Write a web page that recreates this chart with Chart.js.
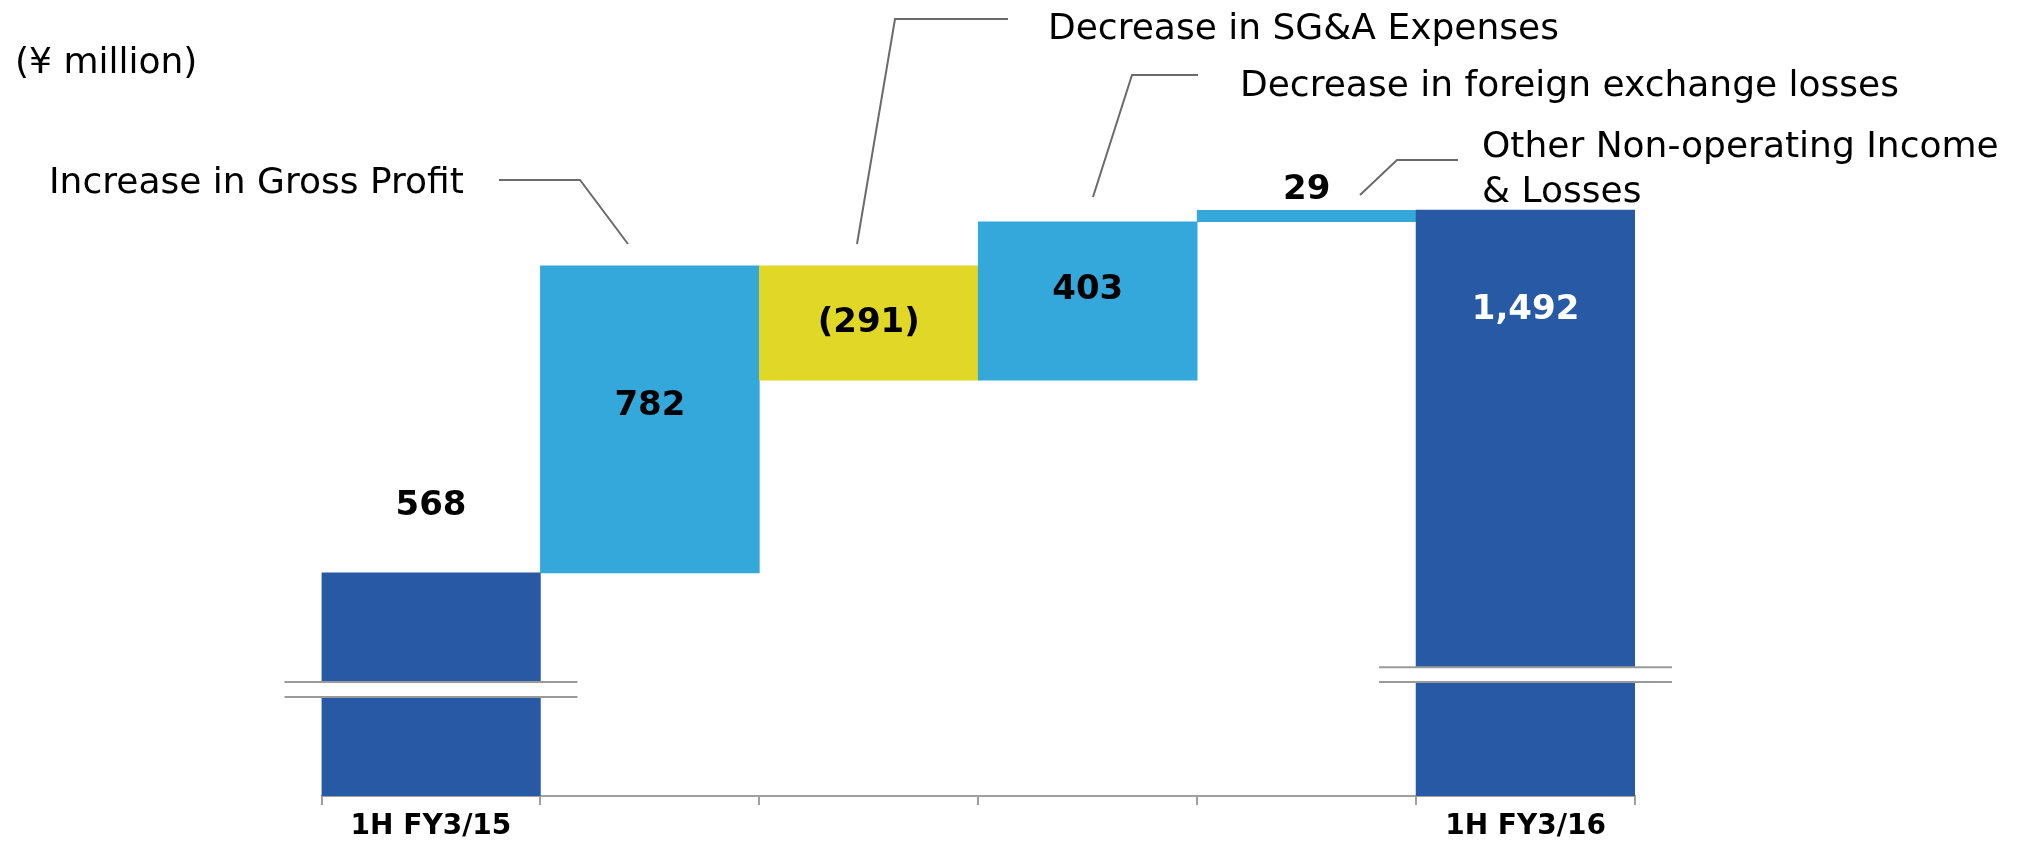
<!DOCTYPE html>
<html>
<head>
<meta charset="utf-8">
<title>Ordinary income bridge</title>
<script src="https://cdn.jsdelivr.net/npm/chart.js@4.4.1/dist/chart.umd.min.js"></script>
<style>
  html, body { margin: 0; padding: 0; background: #fff; }
  #wrap { position: relative; width: 2033px; height: 845px; }
</style>
</head>
<body>
<div id="wrap"><canvas id="bridgeChart"></canvas></div>
<script>
// Values in ¥ million
const categories = ['1H FY3/15', 'Gross Profit', 'SG&A Expenses', 'Foreign exchange losses', 'Other Non-operating', '1H FY3/16'];
const tickLabels = ['1H FY3/15', '', '', '', '', '1H FY3/16'];
const changes = [568, 782, -291, 403, 29, 1492];
const isTotal = [true, false, false, false, false, true];
const barColors = ['#2859a5', '#35a8db', '#e0d727', '#35a8db', '#35a8db', '#2859a5'];
const labelColors = ['#000', '#000', '#000', '#000', '#000', '#fff'];

const FONT = "'DejaVu Sans', Verdana, sans-serif";

// Build floating [from, to] ranges for the waterfall
let running = 0;
const ranges = changes.map((v, i) => {
  if (isTotal[i]) { running = v; return [0, v]; }
  const from = running;
  running += v;
  return [from, running];
});

function formatValue(v) {
  const s = Math.abs(v).toLocaleString('en-US');
  return v < 0 ? '(' + s + ')' : s;
}

// Value labels on / above each bar
const valueLabels = {
  id: 'valueLabels',
  afterDatasetsDraw(chart, args, opts) {
    const ctx = chart.ctx;
    const meta = chart.getDatasetMeta(0);
    ctx.save();
    ctx.font = 'bold 34px ' + FONT;
    ctx.textAlign = 'center';
    ctx.textBaseline = 'middle';
    meta.data.forEach((bar, i) => {
      const { x, y, base } = bar.getProps(['x', 'y', 'base'], true);
      const top = Math.min(y, base);
      const mid = (y + base) / 2;
      const p = opts.place[i];
      const ly = p.from === 'top' ? top + p.dy : mid + p.dy;
      ctx.fillStyle = labelColors[i];
      ctx.fillText(formatValue(changes[i]), x, ly);
    });
    ctx.restore();
  }
};

// Axis-break marks across the two total bars
const breakMarks = {
  id: 'breakMarks',
  afterDatasetsDraw(chart, args, opts) {
    const ctx = chart.ctx;
    const yScale = chart.scales.y;
    const meta = chart.getDatasetMeta(0);
    ctx.save();
    opts.marks.forEach(m => {
      const bar = meta.data[m.index];
      const { x, width } = bar.getProps(['x', 'width'], true);
      const x1 = x - width / 2 - opts.overhang;
      const x2 = x + width / 2 + opts.overhang;
      const yTop = yScale.getPixelForValue(m.high);
      const yBot = yScale.getPixelForValue(m.low);
      ctx.fillStyle = '#fff';
      ctx.fillRect(x1, yTop, x2 - x1, yBot - yTop);
      ctx.strokeStyle = '#9a9a9a';
      ctx.lineWidth = 2;
      ctx.beginPath();
      ctx.moveTo(x1, yTop); ctx.lineTo(x2, yTop);
      ctx.moveTo(x1, yBot); ctx.lineTo(x2, yBot);
      ctx.stroke();
    });
    ctx.restore();
  }
};

// Unit label and callouts with leader lines
const callouts = {
  id: 'callouts',
  afterDraw(chart, args, opts) {
    const ctx = chart.ctx;
    ctx.save();
    ctx.font = '36px ' + FONT;
    ctx.fillStyle = '#000';
    ctx.textAlign = 'left';
    ctx.textBaseline = 'alphabetic';
    ctx.fillText(opts.unit.text, opts.unit.x, opts.unit.y);
    opts.items.forEach(c => {
      c.lines.forEach((t, k) => ctx.fillText(t, c.x, c.y + k * 45));
      ctx.strokeStyle = '#6b6b6b';
      ctx.lineWidth = 2;
      ctx.beginPath();
      c.path.forEach((p, k) => k ? ctx.lineTo(p[0], p[1]) : ctx.moveTo(p[0], p[1]));
      ctx.stroke();
    });
    ctx.restore();
  }
};

const ctx = document.getElementById('bridgeChart').getContext('2d');
const bridgeChart = new Chart(ctx, {
  type: 'bar',
  data: {
    labels: tickLabels,
    datasets: [{
      label: 'Ordinary income',
      data: ranges,
      backgroundColor: barColors,
      borderWidth: 0,
      barPercentage: 1,
      categoryPercentage: 1
    }]
  },
  options: {
    responsive: true,
    maintainAspectRatio: false,
    animation: false,
    devicePixelRatio: 1,
    layout: { padding: { left: 321.5, right: 398, top: 89, bottom: 0 } },
    scales: {
      x: {
        afterFit: (scale) => { scale.height = 49; },
        grid: {
          display: true,
          offset: true,
          drawOnChartArea: false,
          drawTicks: true,
          tickLength: 9,
          color: '#a0a0a0',
          lineWidth: 2
        },
        border: { display: true, color: '#a0a0a0', width: 2 },
        ticks: {
          autoSkip: false,
          maxRotation: 0,
          padding: 5,
          color: '#000',
          font: { family: FONT, size: 28, weight: 'bold' }
        }
      },
      y: {
        display: false,
        min: 0,
        max: 1800
      }
    },
    plugins: {
      legend: { display: false },
      tooltip: { enabled: false },
      valueLabels: {
        place: [
          { from: 'top', dy: -67 },
          { from: 'mid', dy: -13 },
          { from: 'mid', dy: 0 },
          { from: 'mid', dy: -11 },
          { from: 'top', dy: -20 },
          { from: 'top', dy: 100 }
        ]
      },
      breakMarks: {
        overhang: 37,
        marks: [
          { index: 0, low: 252, high: 290 },
          { index: 5, low: 290, high: 328 }
        ]
      },
      callouts: {
        unit: { text: '(¥ million)', x: 15, y: 73 },
        items: [
          { lines: ['Increase in Gross Profit'], x: 49, y: 193, path: [[499, 180], [580, 180], [628, 244]] },
          { lines: ['Decrease in SG&A Expenses'], x: 1048, y: 39, path: [[1008, 19], [895, 19], [857, 244]] },
          { lines: ['Decrease in foreign exchange losses'], x: 1240, y: 96, path: [[1198, 75], [1132, 75], [1093, 197]] },
          { lines: ['Other Non-operating Income', '& Losses'], x: 1482, y: 157, path: [[1360, 195], [1397, 160], [1458, 160]] }
        ]
      }
    }
  },
  plugins: [breakMarks, valueLabels, callouts]
});
</script>
</body>
</html>
